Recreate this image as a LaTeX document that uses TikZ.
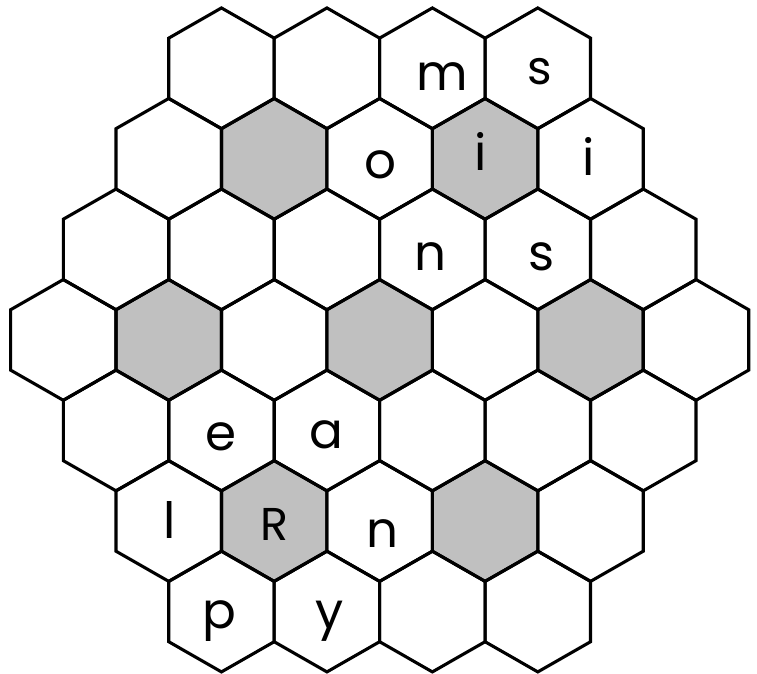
\documentclass[tikz,border=0pt]{standalone}
\usepackage{fontspec}
\setmainfont{Poppins}
\definecolor{cellgray}{RGB}{192,192,192}
\begin{document}
\begin{tikzpicture}[x=1pt,y=-1pt,
  hexline/.style={line width=3.1pt,line join=miter},
  lt/.style={anchor=base,inner sep=0pt,font=\fontsize{50}{54}\selectfont},
  ltcap/.style={anchor=base,inner sep=0pt,font=\fontsize{46}{50}\selectfont}]
\useasboundingbox (0,0) rectangle (757,673);
\def\hw{52.72}
\def\ha{30.18}
\newcommand\hexpath[2]{(#1,#2-2*\ha) -- (#1+\hw,#2-\ha) -- (#1+\hw,#2+\ha) -- (#1,#2+2*\ha) -- (#1-\hw,#2+\ha) -- (#1-\hw,#2-\ha) -- cycle}
\foreach \r/\n in {0/4,1/5,2/6,3/7,4/6,5/5,6/4}{
  \pgfmathsetmacro\yc{68.3+90.54*\r}
  \pgfmathsetmacro\xs{63.3+(7-\n)*52.72}
  \pgfmathtruncatemacro\nn{\n-1}
  \foreach \k in {0,...,\nn}{
    \pgfmathsetmacro\xc{\xs+105.45*\k}
    \fill[white] \hexpath{\xc}{\yc};
  }
}
\foreach \r/\k in {1/1,1/3,3/1,3/3,3/5,5/1,5/3}{
  \pgfmathsetmacro\yc{68.3+90.54*\r}
  \pgfmathsetmacro\n{7-abs(\r-3)}
  \pgfmathsetmacro\xc{63.3+(7-\n)*52.72+105.45*\k}
  \fill[cellgray] \hexpath{\xc}{\yc};
}
\foreach \r/\n in {0/4,1/5,2/6,3/7,4/6,5/5,6/4}{
  \pgfmathsetmacro\yc{68.3+90.54*\r}
  \pgfmathsetmacro\xs{63.3+(7-\n)*52.72}
  \pgfmathtruncatemacro\nn{\n-1}
  \foreach \k in {0,...,\nn}{
    \pgfmathsetmacro\xc{\xs+105.45*\k}
    \draw[hexline] \hexpath{\xc}{\yc};
  }
}
\node[lt] (m1) at (442,90) {m};
\node[lt,font=\fontsize{47}{50}\selectfont] (s1) at (540,84) {s};
\node[lt] (o1) at (380,178) {o};
\node[lt] (i1) at (481,170) {i};
\node[lt] (i2) at (589,175) {i};
\node[lt] (n1) at (430,270) {n};
\node[lt] (s2) at (542,270) {s};
\node[lt] (e1) at (221,450) {e};
\node[lt] (a1) at (326,448) {a};
\node[lt] (l1) at (170,538) {l};
\node[ltcap] (R1) at (274,540) {R};
\node[lt] (n2) at (382,547) {n};
\node[lt] (p1) at (219,628) {p};
\node[lt] (y1) at (330,628) {y};
\end{tikzpicture}
\end{document}
